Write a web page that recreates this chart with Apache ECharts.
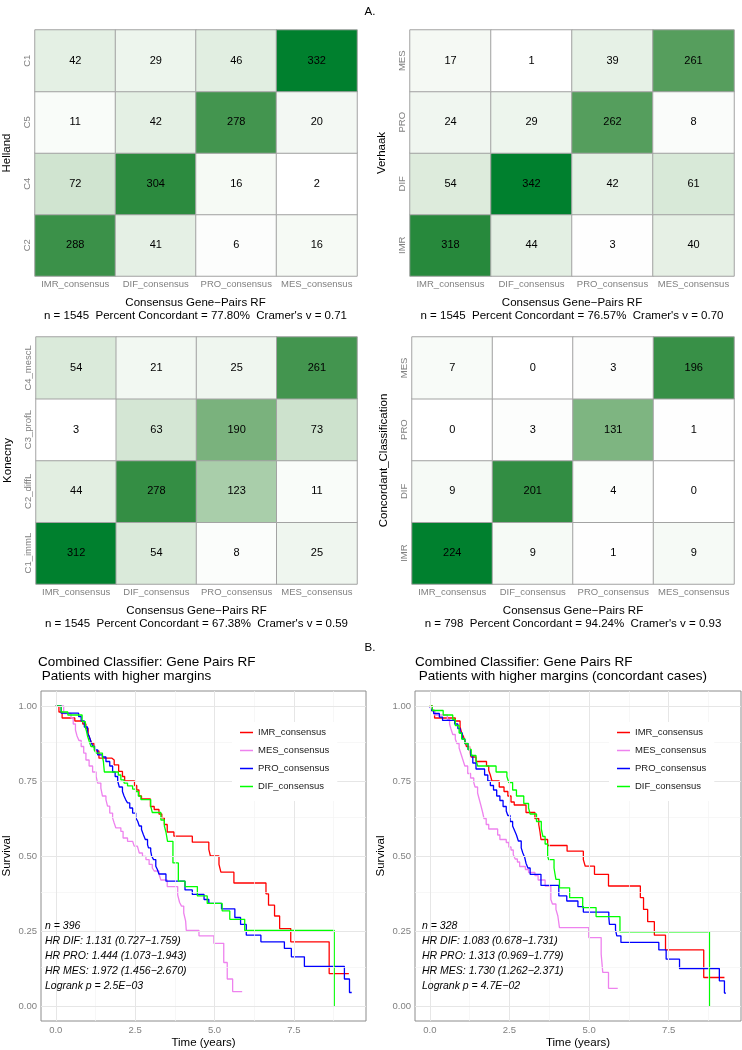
<!DOCTYPE html>
<html><head><meta charset="utf-8">
<script src="https://cdn.jsdelivr.net/npm/echarts@6/dist/echarts.min.js"></script>
<style>html,body{margin:0;padding:0;background:#fff}#c{width:742px;height:1050px}</style>
</head><body><div id="c"></div>
<script>
// ---------- heatmap data (rows listed bottom -> top) ----------
const consensusCats = ['IMR_consensus', 'DIF_consensus', 'PRO_consensus', 'MES_consensus'];
const hellandRows = ['C2', 'C4', 'C5', 'C1'];
const hellandVals = [[288, 41, 6, 16], [72, 304, 16, 2], [11, 42, 278, 20], [42, 29, 46, 332]];
const verhaakRows = ['IMR', 'DIF', 'PRO', 'MES'];
const verhaakVals = [[318, 44, 3, 40], [54, 342, 42, 61], [24, 29, 262, 8], [17, 1, 39, 261]];
const konecnyRows = ['C1_immL', 'C2_diffL', 'C3_profL', 'C4_mescL'];
const konecnyVals = [[312, 54, 8, 25], [44, 278, 123, 11], [3, 63, 190, 73], [54, 21, 25, 261]];
const concRows = ['IMR', 'DIF', 'PRO', 'MES'];
const concVals = [[224, 9, 1, 9], [9, 201, 4, 0], [0, 3, 131, 1], [7, 0, 3, 196]];
const heatTitle = 'Consensus Gene\u2212Pairs RF';
const heatStats = [
  'n = 1545  Percent Concordant = 77.80%  Cramer\'s v = 0.71',
  'n = 1545  Percent Concordant = 76.57%  Cramer\'s v = 0.70',
  'n = 1545  Percent Concordant = 67.38%  Cramer\'s v = 0.59',
  'n = 798  Percent Concordant = 94.24%  Cramer\'s v = 0.93'
];
const heatYNames = ['Helland', 'Verhaak', 'Konecny', 'Concordant_Classification'];

// ---------- survival data: [time (years), survival after step] ----------
const groupNames = ['IMR_consensus', 'MES_consensus', 'PRO_consensus', 'DIF_consensus'];
const imr1 = [[0,1],[0.1,0.98],[0.2,0.96],[0.6,0.95],[0.85,0.94],[0.95,0.925],[1.02,0.905],[1.08,0.89],[1.13,0.875],[1.2,0.865],[1.26,0.85],[1.36,0.826],[1.77,0.82],[1.84,0.804],[1.98,0.782],[2.1,0.765],[2.17,0.75],[2.48,0.735],[2.55,0.72],[2.62,0.70],[2.7,0.69],[2.98,0.665],[3.1,0.655],[3.25,0.64],[3.34,0.627],[3.42,0.605],[3.51,0.58],[3.72,0.566],[4.3,0.546],[4.82,0.522],[4.87,0.5],[5.14,0.472],[5.2,0.446],[5.61,0.41],[6.62,0.374],[6.7,0.336],[6.89,0.30],[7.05,0.258],[7.4,0.214],[8.61,0.108],[9.23,0.108]];
const mes1 = [[0,1],[0.25,0.975],[0.48,0.96],[0.55,0.94],[0.62,0.92],[0.67,0.9],[0.73,0.885],[0.8,0.865],[0.88,0.843],[0.95,0.82],[1.05,0.80],[1.16,0.78],[1.27,0.765],[1.32,0.743],[1.42,0.726],[1.47,0.70],[1.58,0.688],[1.63,0.666],[1.7,0.643],[1.79,0.627],[1.84,0.61],[1.89,0.594],[2.05,0.582],[2.12,0.56],[2.26,0.549],[2.42,0.544],[2.47,0.533],[2.57,0.527],[2.63,0.51],[2.73,0.499],[2.84,0.488],[2.94,0.472],[3.04,0.46],[3.1,0.45],[3.25,0.44],[3.31,0.42],[3.51,0.398],[3.84,0.37],[3.9,0.345],[3.96,0.333],[4.03,0.31],[4.09,0.283],[4.11,0.252],[4.51,0.234],[4.98,0.209],[5.29,0.145],[5.4,0.09],[5.57,0.048],[5.87,0.048]];
const pro1 = [[0,1],[0.17,0.976],[0.72,0.965],[0.8,0.95],[0.9,0.93],[1.0,0.91],[1.05,0.9],[1.11,0.88],[1.17,0.865],[1.24,0.854],[1.32,0.837],[1.47,0.83],[1.58,0.815],[1.7,0.80],[1.79,0.78],[1.87,0.765],[1.95,0.75],[2.0,0.73],[2.1,0.715],[2.15,0.70],[2.2,0.688],[2.26,0.677],[2.33,0.66],[2.42,0.643],[2.52,0.627],[2.58,0.616],[2.63,0.60],[2.7,0.588],[2.76,0.571],[2.82,0.555],[2.89,0.538],[2.92,0.527],[2.99,0.516],[3.02,0.50],[3.08,0.488],[3.15,0.466],[3.2,0.455],[3.25,0.44],[3.47,0.416],[4.07,0.387],[4.3,0.372],[4.67,0.355],[4.82,0.342],[5.22,0.324],[5.64,0.295],[5.82,0.272],[6.0,0.236],[6.46,0.214],[7.2,0.192],[7.42,0.164],[7.83,0.132],[9.09,0.09],[9.25,0.045],[9.32,0.045]];
const dif1 = [[0,1],[0.17,0.98],[0.38,0.97],[0.83,0.948],[0.93,0.93],[0.97,0.915],[1.0,0.9],[1.06,0.88],[1.11,0.865],[1.21,0.854],[1.27,0.843],[1.47,0.83],[1.5,0.815],[1.53,0.78],[1.97,0.77],[2.05,0.754],[2.15,0.743],[2.26,0.734],[2.42,0.723],[2.52,0.715],[2.6,0.70],[2.68,0.688],[2.99,0.666],[3.04,0.645],[3.31,0.62],[3.42,0.60],[3.47,0.58],[3.52,0.549],[3.69,0.477],[3.86,0.416],[4.07,0.398],[4.46,0.367],[4.77,0.342],[5.24,0.317],[5.48,0.289],[5.95,0.252],[8.77,0]];
const imr2 = [[0,1],[0.08,0.985],[0.15,0.96],[0.8,0.95],[0.95,0.93],[1.0,0.91],[1.05,0.9],[1.1,0.885],[1.15,0.865],[1.25,0.845],[1.3,0.83],[1.45,0.815],[1.78,0.80],[1.85,0.785],[1.9,0.77],[1.95,0.75],[2.18,0.73],[2.33,0.715],[2.45,0.70],[2.55,0.68],[2.65,0.67],[3.02,0.645],[3.3,0.625],[3.42,0.605],[3.46,0.58],[3.49,0.555],[3.7,0.535],[4.31,0.516],[4.82,0.488],[4.88,0.466],[5.17,0.439],[5.61,0.40],[6.61,0.361],[6.71,0.322],[6.84,0.281],[7.05,0.236],[7.4,0.187],[8.6,0.095],[9.25,0.095]];
const mes2 = [[0,1],[0.05,0.985],[0.15,0.97],[0.55,0.955],[0.62,0.94],[0.66,0.925],[0.72,0.905],[0.8,0.89],[0.85,0.875],[0.92,0.86],[0.98,0.84],[1.04,0.82],[1.1,0.80],[1.19,0.775],[1.28,0.76],[1.38,0.745],[1.42,0.73],[1.5,0.71],[1.55,0.69],[1.6,0.67],[1.66,0.645],[1.7,0.625],[1.77,0.605],[1.85,0.59],[2.13,0.57],[2.2,0.555],[2.4,0.545],[2.48,0.53],[2.55,0.52],[2.62,0.505],[2.68,0.49],[2.75,0.48],[2.82,0.465],[3.0,0.455],[3.1,0.445],[3.3,0.435],[3.4,0.42],[3.62,0.40],[3.8,0.355],[3.85,0.34],[3.96,0.322],[4.02,0.30],[4.07,0.261],[4.99,0.228],[5.38,0.173],[5.43,0.112],[5.61,0.059],[5.9,0.059]];
const pro2 = [[0,1],[0.05,0.985],[0.12,0.975],[0.3,0.963],[0.4,0.952],[0.78,0.94],[0.88,0.925],[0.95,0.91],[1.02,0.89],[1.1,0.875],[1.2,0.855],[1.28,0.835],[1.35,0.81],[1.45,0.79],[1.72,0.77],[1.82,0.75],[1.9,0.735],[2.0,0.72],[2.1,0.70],[2.2,0.685],[2.3,0.665],[2.4,0.65],[2.45,0.635],[2.52,0.615],[2.6,0.60],[2.66,0.585],[2.72,0.57],[2.78,0.55],[2.87,0.527],[2.92,0.51],[2.98,0.495],[3.02,0.476],[3.08,0.46],[3.15,0.439],[3.49,0.402],[4.05,0.367],[4.3,0.35],[4.65,0.331],[4.82,0.313],[5.62,0.295],[5.64,0.272],[5.83,0.254],[5.87,0.234],[6.0,0.212],[7.19,0.187],[7.42,0.156],[7.84,0.125],[9.09,0.084],[9.25,0.043],[9.3,0.043]];
const dif2 = [[0,1],[0.08,0.985],[0.42,0.97],[0.72,0.955],[0.8,0.935],[0.92,0.91],[1.0,0.89],[1.1,0.875],[1.2,0.855],[1.3,0.835],[1.45,0.82],[1.5,0.80],[2.08,0.78],[2.42,0.765],[2.48,0.745],[2.6,0.72],[2.72,0.70],[2.95,0.675],[3.1,0.66],[3.15,0.64],[3.35,0.615],[3.5,0.59],[3.55,0.565],[3.62,0.54],[3.7,0.50],[3.73,0.488],[3.9,0.46],[3.93,0.44],[3.96,0.422],[4.07,0.394],[4.39,0.361],[4.8,0.328],[5.22,0.298],[5.97,0.247],[8.78,0]];

const survTitles = [
  ['Combined Classifier: Gene Pairs RF', ' Patients with higher margins'],
  ['Combined Classifier: Gene Pairs RF', ' Patients with higher margins (concordant cases)']
];
const survNotes = [
  ['n = 396', 'HR DIF: 1.131 (0.727\u22121.759)', 'HR PRO: 1.444 (1.073\u22121.943)', 'HR MES: 1.972 (1.456\u22122.670)', 'Logrank p = 2.5E\u221203'],
  ['n = 328', 'HR DIF: 1.083 (0.678\u22121.731)', 'HR PRO: 1.313 (0.969\u22121.779)', 'HR MES: 1.730 (1.262\u22122.371)', 'Logrank p = 4.7E\u221202']
];
const xTicks = [0, 2.5, 5, 7.5];
const xMinor = [1.25, 3.75, 6.25, 8.75];
const yTicks = [0, 0.25, 0.5, 0.75, 1];
const yMinor = [0.125, 0.375, 0.625, 0.875];

// ---------- styling helpers ----------
const FONT = '"Liberation Sans", Arial, Helvetica, sans-serif';
const groupColors = {IMR_consensus: '#FF0000', MES_consensus: '#EE82EE', PRO_consensus: '#0000FF', DIF_consensus: '#00FF00'};

function s2l(c) { c /= 255; return c <= 0.04045 ? c / 12.92 : Math.pow((c + 0.055) / 1.055, 2.4); }
function l2s(v) { v = v <= 0.0031308 ? 12.92 * v : 1.055 * Math.pow(v, 1 / 2.4) - 0.055; return Math.round(Math.max(0, Math.min(1, v)) * 255); }
function rgb2lab(rgb) {
  const [r, g, b] = rgb.map(s2l);
  const X = (0.4124 * r + 0.3576 * g + 0.1805 * b) / 0.95047;
  const Y = (0.2126 * r + 0.7152 * g + 0.0722 * b);
  const Z = (0.0193 * r + 0.1192 * g + 0.9505 * b) / 1.08883;
  const f = t => t > 0.008856 ? Math.cbrt(t) : 7.787 * t + 16 / 116;
  return [116 * f(Y) - 16, 500 * (f(X) - f(Y)), 200 * (f(Y) - f(Z))];
}
function lab2rgb(lab) {
  const fy = (lab[0] + 16) / 116, fx = fy + lab[1] / 500, fz = fy - lab[2] / 200;
  const fi = t => t * t * t > 0.008856 ? t * t * t : (t - 16 / 116) / 7.787;
  const X = fi(fx) * 0.95047, Y = fi(fy), Z = fi(fz) * 1.08883;
  const r = 3.2406 * X - 1.5372 * Y - 0.4986 * Z;
  const g = -0.9689 * X + 1.8758 * Y + 0.0415 * Z;
  const b = 0.0557 * X - 0.2040 * Y + 1.0570 * Z;
  return 'rgb(' + [r, g, b].map(l2s).join(',') + ')';
}
const LOW = rgb2lab([255, 255, 255]), HIGH = rgb2lab([0, 128, 46]);
function fillFor(v, lo, hi) {
  const t = hi > lo ? (v - lo) / (hi - lo) : 0;
  return lab2rgb([0, 1, 2].map(i => LOW[i] + (HIGH[i] - LOW[i]) * t));
}

const heatGrids = [
  {left: 34, top: 30, width: 323, height: 246},
  {left: 410, top: 30, width: 324, height: 246},
  {left: 36, top: 337, width: 321, height: 247},
  {left: 412, top: 337, width: 322, height: 247}
];
const survGrids = [
  {left: 38, top: 691, width: 328, height: 331},
  {left: 415, top: 691, width: 326, height: 331}
];
const heatSets = [
  [hellandRows, hellandVals], [verhaakRows, verhaakVals], [konecnyRows, konecnyVals], [concRows, concVals]
];

const grid = [], xAxis = [], yAxis = [], series = [], graphic = [], legend = [];

heatSets.forEach(([rows, vals], i) => {
  grid.push(Object.assign({containLabel: false, show: false}, heatGrids[i]));
  xAxis.push({
    type: 'category', gridIndex: i, data: consensusCats,
    axisLine: {show: false}, axisTick: {show: false}, splitLine: {show: false},
    axisLabel: {color: '#808080', fontSize: 9.5, fontFamily: FONT, margin: 3, interval: 0}
  });
  yAxis.push({
    type: 'category', gridIndex: i, data: rows,
    axisLine: {show: false}, axisTick: {show: false}, splitLine: {show: false},
    axisLabel: {color: '#808080', fontSize: 9.5, fontFamily: FONT, margin: 3, rotate: 90, interval: 0},
    name: heatYNames[i], nameLocation: 'middle', nameRotate: 90, nameGap: 22,
    nameTextStyle: {color: '#000', fontSize: 11.5, fontFamily: FONT}
  });
  const flat = vals.flat();
  const lo = Math.min(...flat), hi = Math.max(...flat);
  const data = [];
  vals.forEach((row, r) => row.forEach((v, c) => {
    data.push({value: [c, r, v], itemStyle: {color: fillFor(v, lo, hi)}});
  }));
  series.push({
    type: 'heatmap', xAxisIndex: i, yAxisIndex: i, data,
    itemStyle: {borderColor: '#a3a3a3', borderWidth: 1},
    label: {show: true, color: '#000', fontSize: 11, fontFamily: FONT, formatter: p => p.value[2]},
    emphasis: {disabled: true}, silent: true
  });
  const g = heatGrids[i];
  const cx = g.left + g.width / 2;
  const y0 = g.top + g.height;
  graphic.push({type: 'text', z: 100, style: {text: heatTitle, x: cx, y: y0 + 27, textAlign: 'center', textVerticalAlign: 'middle', font: '11.5px ' + FONT, fill: '#000'}});
  graphic.push({type: 'text', z: 100, style: {text: heatStats[i], x: cx, y: y0 + 40, textAlign: 'center', textVerticalAlign: 'middle', font: '11.5px ' + FONT, fill: '#000'}});
});

const survSets = [[imr1, mes1, pro1, dif1], [imr2, mes2, pro2, dif2]];
survSets.forEach((sets, k) => {
  const gi = 4 + k;
  grid.push(Object.assign({show: true, borderColor: '#8c8c8c', borderWidth: 1, backgroundColor: '#fff'}, survGrids[k]));
  xAxis.push({
    type: 'value', gridIndex: gi, min: -0.465, max: 9.77,
    axisLine: {show: false}, splitLine: {show: false},
    axisTick: {show: true, length: 3, customValues: xTicks, lineStyle: {color: '#333'}},
    axisLabel: {customValues: xTicks, color: '#808080', fontSize: 9.5, fontFamily: FONT, margin: 4, formatter: v => v.toFixed(1)},
    name: 'Time (years)', nameLocation: 'middle', nameGap: 16,
    nameTextStyle: {color: '#000', fontSize: 11.5, fontFamily: FONT}
  });
  yAxis.push({
    type: 'value', gridIndex: gi, min: -0.05, max: 1.05,
    axisLine: {show: false}, splitLine: {show: false},
    axisTick: {show: true, length: 3, customValues: yTicks, lineStyle: {color: '#333'}},
    axisLabel: {customValues: yTicks, color: '#808080', fontSize: 9.5, fontFamily: FONT, margin: 4, formatter: v => v.toFixed(2)},
    name: 'Survival', nameLocation: 'middle', nameRotate: 90, nameGap: 28,
    nameTextStyle: {color: '#000', fontSize: 11.5, fontFamily: FONT}
  });
  // grid lines drawn through the axis scales
  const ml = (arr, key, color, w) => arr.map(v => ({[key]: v, lineStyle: {color, width: w, type: 'solid'}}));
  series.push({
    type: 'line', xAxisIndex: gi, yAxisIndex: gi, data: [[-1, -1]], symbol: 'none', silent: true, z: 1,
    lineStyle: {opacity: 0},
    markLine: {
      silent: true, symbol: ['none', 'none'], label: {show: false}, animation: false,
      data: [].concat(ml(xMinor, 'xAxis', '#f3f3f3', 0.7), ml(yMinor, 'yAxis', '#f3f3f3', 0.7),
                      ml(xTicks, 'xAxis', '#e6e6e6', 1), ml(yTicks, 'yAxis', '#e6e6e6', 1))
    }
  });
  sets.forEach((d, j) => {
    series.push({
      type: 'line', name: groupNames[j], xAxisIndex: gi, yAxisIndex: gi, data: d,
      step: 'end', symbol: 'none', showSymbol: false, z: 3,
      lineStyle: {color: groupColors[groupNames[j]], width: 1.3},
      itemStyle: {color: groupColors[groupNames[j]]}, silent: true
    });
  });
  const g = survGrids[k];
  legend.push({
    data: groupNames, orient: 'vertical', left: g.left + 194, top: 722,
    backgroundColor: '#fff', padding: [5, 8, 9, 8], itemGap: 7, itemWidth: 13, itemHeight: 1.5,
    icon: 'rect', selectedMode: false, z: 10,
    textStyle: {color: '#1a1a1a', fontSize: 9.5, fontFamily: FONT, lineHeight: 11, padding: [0, 0, 0, 0]}
  });
  graphic.push({type: 'text', z: 100, style: {text: survTitles[k][0], x: g.left, y: 662, textVerticalAlign: 'middle', font: '13.5px ' + FONT, fill: '#000'}});
  graphic.push({type: 'text', z: 100, style: {text: survTitles[k][1], x: g.left, y: 676, textVerticalAlign: 'middle', font: '13.5px ' + FONT, fill: '#000'}});
  graphic.push({type: 'text', z: 100, style: {text: survNotes[k].join('\n'), x: g.left + 7, y: 918.5, textVerticalAlign: 'top', lineHeight: 15, font: 'italic 10.5px ' + FONT, fill: '#000'}});
});

graphic.push({type: 'text', z: 100, style: {text: 'A.', x: 370, y: 12, textAlign: 'center', textVerticalAlign: 'middle', font: '11.5px ' + FONT, fill: '#000'}});
graphic.push({type: 'text', z: 100, style: {text: 'B.', x: 370, y: 648, textAlign: 'center', textVerticalAlign: 'middle', font: '11.5px ' + FONT, fill: '#000'}});

const chart = echarts.init(document.getElementById('c'), null, {renderer: 'canvas'});
chart.setOption({animation: false, backgroundColor: '#fff', grid, xAxis, yAxis, series, legend, graphic});
</script></body></html>
